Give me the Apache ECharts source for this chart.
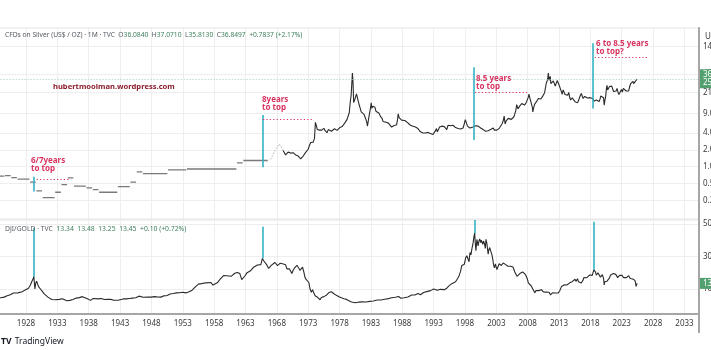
<!DOCTYPE html>
<html><head><meta charset="utf-8">
<script src="https://cdn.jsdelivr.net/npm/echarts@6/dist/echarts.min.js"></script>
<style>html,body{margin:0;padding:0;background:#fff}#c{width:711px;height:350px}</style>
</head><body><div id="c"></div>
<script>
// ---------- data ----------
const silverAxisTicks = [0.25, 0.5, 1, 2, 4, 9, 21, 45, 140];
const djiAxisTicks = [10, 30, 50];

const silverYearlyYears = [1923,1924,1925,1926,1927,1928,1929,1930,1931,1932,1933,1934,1935,1936,1937,1938,1939,1940,1941,1942,1943,1944,1945,1946,1947,1948,1949,1950,1951,1952,1953,1954,1955,1956,1957,1958,1959,1960,1961,1962,1963,1964,1965,1966];
const silverYearlyValues = [0.66,0.68,0.69,0.64,0.60,0.60,0.53,0.37,0.28,0.28,0.35,0.48,0.63,0.45,0.45,0.42,0.39,0.35,0.35,0.35,0.44,0.44,0.53,0.81,0.75,0.75,0.75,0.75,0.88,0.88,0.88,0.91,0.91,0.91,0.91,0.91,0.91,0.91,0.91,1.17,1.29,1.29,1.29,1.29];

const silverGapDates = [1967.0, 1967.5, 1968.0, 1968.4, 1968.8, 1969.0];
const silverGapValues = [1.35, 1.75, 2.2, 2.55, 2.15, 1.95];

const silverDates = [1969.0,1969.2,1969.4,1969.6,1969.8,1970.0,1970.2,1970.4,1970.6,1970.8,1971.0,1971.2,1971.4,1971.6,1971.8,1972.0,1972.2,1972.4,1972.6,1972.8,1973.0,1973.2,1973.4,1973.6,1973.8,1974.0,1974.15,1974.3,1974.45,1974.6,1974.8,1975.0,1975.15,1975.3,1975.5,1975.7,1975.85,1976.0,1976.2,1976.35,1976.5,1976.7,1976.85,1977.0,1977.2,1977.4,1977.6,1977.8,1978.0,1978.2,1978.4,1978.6,1978.8,1979.0,1979.2,1979.4,1979.55,1979.7,1979.85,1979.95,1980.05,1980.15,1980.25,1980.4,1980.55,1980.7,1980.85,1981.0,1981.15,1981.3,1981.45,1981.6,1981.75,1981.9,1982.05,1982.2,1982.35,1982.45,1982.6,1982.75,1982.9,1983.05,1983.15,1983.3,1983.5,1983.65,1983.8,1983.95,1984.1,1984.3,1984.5,1984.65,1984.8,1984.95,1985.1,1985.25,1985.4,1985.6,1985.8,1985.95,1986.1,1986.3,1986.5,1986.65,1986.8,1986.95,1987.1,1987.25,1987.35,1987.5,1987.7,1987.9,1988.05,1988.2,1988.4,1988.6,1988.8,1988.95,1989.1,1989.3,1989.5,1989.7,1989.9,1990.1,1990.3,1990.5,1990.7,1990.9,1991.1,1991.3,1991.5,1991.7,1991.9,1992.1,1992.3,1992.5,1992.7,1992.9,1993.1,1993.3,1993.45,1993.6,1993.8,1993.95,1994.1,1994.3,1994.5,1994.7,1994.9,1995.1,1995.3,1995.5,1995.7,1995.9,1996.1,1996.3,1996.5,1996.7,1996.9,1997.1,1997.3,1997.5,1997.7,1997.9,1998.05,1998.2,1998.4,1998.6,1998.8,1998.95,1999.1,1999.3,1999.5,1999.7,1999.9,2000.1,2000.3,2000.5,2000.7,2000.9,2001.1,2001.3,2001.5,2001.7,2001.9,2002.1,2002.3,2002.5,2002.7,2002.9,2003.1,2003.3,2003.5,2003.7,2003.9,2004.1,2004.25,2004.4,2004.55,2004.7,2004.9,2005.05,2005.2,2005.4,2005.6,2005.8,2005.95,2006.1,2006.25,2006.35,2006.45,2006.6,2006.75,2006.9,2007.05,2007.2,2007.35,2007.5,2007.65,2007.8,2007.95,2008.1,2008.2,2008.35,2008.5,2008.6,2008.75,2008.82,2008.95,2009.1,2009.25,2009.4,2009.55,2009.7,2009.85,2009.95,2010.1,2010.25,2010.4,2010.55,2010.7,2010.85,2010.95,2011.1,2011.2,2011.3,2011.4,2011.5,2011.6,2011.7,2011.85,2011.95,2012.1,2012.25,2012.4,2012.55,2012.7,2012.85,2012.95,2013.1,2013.25,2013.4,2013.5,2013.65,2013.8,2013.95,2014.1,2014.25,2014.4,2014.55,2014.7,2014.85,2014.95,2015.1,2015.25,2015.4,2015.55,2015.7,2015.85,2015.95,2016.1,2016.25,2016.4,2016.55,2016.7,2016.85,2016.95,2017.1,2017.25,2017.4,2017.55,2017.7,2017.85,2017.95,2018.1,2018.25,2018.4,2018.55,2018.7,2018.85,2018.95,2019.1,2019.25,2019.4,2019.55,2019.65,2019.8,2019.95,2020.1,2020.2,2020.3,2020.45,2020.55,2020.65,2020.75,2020.9,2021.05,2021.15,2021.3,2021.4,2021.55,2021.7,2021.85,2021.95,2022.1,2022.25,2022.4,2022.55,2022.7,2022.85,2022.95,2023.1,2023.25,2023.4,2023.55,2023.7,2023.85,2023.95,2024.1,2024.25,2024.4,2024.5,2024.65,2024.8,2024.9,2024.98,2025.1,2025.2,2025.3,2025.38,2025.45];
const silverValues = [1.95,1.80,1.62,1.75,1.82,1.88,1.75,1.68,1.78,1.70,1.62,1.66,1.55,1.48,1.38,1.42,1.55,1.65,1.80,1.90,2.05,2.40,2.70,2.90,2.75,3.20,6.20,5.40,4.60,4.80,4.50,4.20,4.50,4.30,4.85,4.40,4.20,4.05,4.60,4.90,4.40,4.30,4.45,4.50,4.75,4.60,4.45,4.80,4.95,5.30,5.20,5.55,5.95,6.10,7.00,8.20,9.20,14.0,19.0,30.0,47.0,32.0,14.0,15.5,16.5,20.0,17.0,14.5,12.5,11.0,9.5,8.8,9.8,8.6,7.8,7.0,6.2,5.3,6.8,8.6,10.5,13.8,11.0,12.0,12.8,11.5,9.8,9.2,9.8,9.0,8.0,7.5,7.2,6.4,6.0,6.7,6.2,6.3,6.0,5.9,5.7,5.1,5.0,5.4,5.8,5.4,5.6,7.0,8.8,7.5,7.4,6.8,6.5,6.4,6.7,6.5,6.2,6.1,5.8,5.5,5.2,5.3,5.6,5.1,5.0,4.8,4.9,4.2,3.9,4.0,4.3,4.0,3.9,4.1,4.0,3.9,3.8,3.75,3.6,4.4,4.8,4.2,4.4,5.1,5.4,5.3,5.4,5.2,4.8,4.6,5.5,5.1,5.4,5.1,5.5,5.2,5.0,4.9,4.8,5.2,4.7,4.4,4.9,5.9,6.9,6.2,5.3,5.5,4.9,5.0,5.3,5.1,5.3,5.4,5.2,5.3,5.0,4.9,4.8,4.6,4.4,4.3,4.2,4.4,4.5,4.6,4.7,4.9,4.5,4.6,4.5,4.7,4.9,5.2,5.8,6.6,8.0,5.8,6.5,7.0,7.3,6.9,7.2,7.0,7.3,7.8,8.8,10.0,12.8,13.6,10.8,11.5,12.2,13.0,13.4,13.8,13.1,12.6,13.2,14.2,14.8,17.5,19.8,16.8,17.8,15.5,11.5,9.5,11.2,13.0,12.5,14.5,13.8,16.5,17.8,16.9,16.2,17.5,18.2,17.8,21.0,26.0,30.5,34.0,38.0,47.0,35.0,34.5,41.0,30.5,33.0,28.2,34.0,32.5,27.5,28.0,34.5,32.5,30.0,28.5,24.0,21.5,19.5,23.5,21.5,19.5,21.0,19.7,19.0,21.2,17.2,15.5,15.7,17.0,15.8,16.3,14.5,14.8,14.2,13.8,15.0,17.0,17.5,20.3,19.2,16.5,16.0,18.0,17.0,16.6,16.9,17.2,16.6,17.1,16.6,16.3,16.5,14.8,14.5,14.3,15.5,15.3,14.9,14.6,16.3,18.3,17.5,17.9,17.0,12.5,15.0,18.5,24.5,28.5,23.5,24.5,27.0,26.5,25.0,27.5,25.5,22.0,23.5,23.0,22.5,25.0,21.5,19.5,18.2,21.0,24.0,21.5,25.0,24.0,24.5,22.5,23.0,24.0,22.5,26.5,30.0,29.0,28.5,33.5,30.5,29.0,31.5,33.8,32.2,33.0,36.85];

const djiGoldDates = [1923.5,1924.0,1924.5,1925.0,1925.5,1926.0,1926.3,1926.7,1927.0,1927.4,1927.8,1928.0,1928.4,1928.7,1928.95,1929.15,1929.25,1929.35,1929.42,1929.55,1929.7,1929.85,1930.0,1930.3,1930.6,1930.9,1931.2,1931.5,1931.8,1932.1,1932.4,1932.7,1933.0,1933.3,1933.5,1933.8,1934.0,1934.5,1935.0,1935.5,1936.0,1936.5,1937.0,1937.3,1937.7,1938.0,1938.3,1938.7,1939.0,1939.5,1940.0,1940.5,1941.0,1941.5,1942.0,1942.3,1942.7,1943.0,1943.5,1944.0,1944.5,1945.0,1945.5,1946.0,1946.3,1946.7,1947.0,1947.5,1948.0,1948.5,1949.0,1949.5,1950.0,1950.5,1951.0,1951.5,1952.0,1952.5,1953.0,1953.5,1954.0,1954.5,1955.0,1955.5,1955.8,1956.0,1956.3,1956.7,1957.0,1957.5,1957.8,1958.0,1958.5,1959.0,1959.5,1959.8,1960.0,1960.3,1960.7,1961.0,1961.3,1961.7,1961.9,1962.1,1962.4,1962.6,1962.9,1963.2,1963.5,1963.8,1964.0,1964.3,1964.6,1964.9,1965.2,1965.45,1965.7,1965.9,1966.1,1966.4,1966.7,1966.9,1967.1,1967.4,1967.7,1967.9,1968.1,1968.3,1968.5,1968.7,1968.9,1969.1,1969.4,1969.6,1969.8,1970.0,1970.2,1970.4,1970.6,1970.8,1971.0,1971.2,1971.5,1971.7,1971.9,1972.1,1972.3,1972.5,1972.7,1972.9,1973.1,1973.3,1973.5,1973.7,1973.9,1974.1,1974.3,1974.5,1974.7,1974.9,1975.1,1975.3,1975.5,1975.7,1975.9,1976.1,1976.3,1976.5,1976.7,1976.9,1977.1,1977.3,1977.5,1977.7,1977.9,1978.1,1978.3,1978.5,1978.7,1978.9,1979.1,1979.3,1979.5,1979.7,1979.9,1980.05,1980.2,1980.5,1980.8,1981.0,1981.3,1981.6,1981.9,1982.2,1982.5,1982.8,1983.1,1983.4,1983.7,1984.0,1984.3,1984.6,1984.9,1985.2,1985.5,1985.8,1986.0,1986.3,1986.6,1986.9,1987.1,1987.4,1987.6,1987.8,1988.0,1988.3,1988.6,1988.9,1989.2,1989.5,1989.8,1990.0,1990.3,1990.5,1990.7,1990.9,1991.1,1991.4,1991.7,1991.9,1992.2,1992.5,1992.8,1993.0,1993.3,1993.6,1993.9,1994.1,1994.4,1994.7,1994.9,1995.1,1995.4,1995.7,1995.9,1996.2,1996.5,1996.8,1996.95,1997.1,1997.3,1997.5,1997.7,1997.9,1998.1,1998.3,1998.5,1998.65,1998.8,1998.95,1999.1,1999.3,1999.45,1999.55,1999.65,1999.75,1999.9,2000.0,2000.1,2000.2,2000.35,2000.5,2000.6,2000.75,2000.85,2000.95,2001.1,2001.25,2001.35,2001.5,2001.6,2001.7,2001.8,2001.95,2002.1,2002.3,2002.45,2002.55,2002.7,2002.85,2002.95,2003.1,2003.3,2003.45,2003.6,2003.8,2003.95,2004.1,2004.3,2004.5,2004.7,2004.85,2004.95,2005.15,2005.3,2005.5,2005.65,2005.8,2005.95,2006.1,2006.3,2006.45,2006.6,2006.75,2006.9,2007.05,2007.2,2007.35,2007.5,2007.65,2007.8,2007.95,2008.1,2008.25,2008.4,2008.55,2008.7,2008.8,2008.9,2009.0,2009.15,2009.3,2009.45,2009.6,2009.75,2009.9,2010.05,2010.2,2010.35,2010.5,2010.65,2010.8,2010.95,2011.1,2011.25,2011.4,2011.55,2011.65,2011.8,2011.95,2012.1,2012.25,2012.4,2012.55,2012.7,2012.85,2012.95,2013.1,2013.25,2013.4,2013.55,2013.7,2013.85,2013.95,2014.1,2014.25,2014.4,2014.55,2014.7,2014.85,2014.95,2015.1,2015.25,2015.4,2015.55,2015.7,2015.85,2015.95,2016.1,2016.25,2016.4,2016.55,2016.7,2016.85,2016.95,2017.1,2017.25,2017.4,2017.55,2017.7,2017.85,2017.95,2018.05,2018.15,2018.3,2018.45,2018.55,2018.7,2018.8,2018.95,2019.05,2019.2,2019.35,2019.5,2019.6,2019.75,2019.9,2020.0,2020.1,2020.2,2020.3,2020.45,2020.55,2020.65,2020.8,2020.9,2021.05,2021.2,2021.35,2021.5,2021.65,2021.8,2021.95,2022.05,2022.2,2022.35,2022.5,2022.65,2022.75,2022.9,2023.0,2023.15,2023.3,2023.45,2023.6,2023.75,2023.85,2023.95,2024.1,2024.2,2024.35,2024.5,2024.6,2024.75,2024.9,2025.0,2025.1,2025.2,2025.28,2025.35,2025.45];
const djiGoldValues = [4.6,4.6,5.0,5.8,6.5,7.5,6.8,7.6,7.7,8.3,9.3,9.8,10.5,12.5,14.8,16.5,17.8,13.0,10.0,13.5,14.8,13.0,11.5,10.0,8.5,7.0,6.5,5.0,4.3,3.5,2.5,3.4,3.0,3.6,4.5,4.0,2.9,2.8,3.0,3.6,4.4,4.7,5.3,5.2,4.2,3.5,3.0,4.2,4.1,3.9,4.2,3.5,3.6,3.6,3.1,2.8,3.1,3.5,3.9,3.9,4.2,4.4,4.6,5.6,5.9,4.9,5.0,5.1,5.0,5.3,5.1,5.0,5.8,6.0,6.9,7.2,7.6,7.7,8.0,7.6,8.3,9.3,11.3,13.0,13.4,13.3,14.2,13.8,13.4,14.0,12.4,12.8,13.8,16.2,18.3,19.0,18.2,17.6,17.8,18.6,19.7,20.2,20.4,19.5,15.8,16.5,18.0,19.8,20.5,21.2,22.3,23.4,24.3,24.8,25.6,25.0,28.8,27.4,27.0,24.8,22.6,22.9,24.5,25.6,26.3,25.1,24.4,25.6,25.8,26.4,25.5,24.3,24.9,22.4,23.3,22.5,22.0,19.5,21.5,22.8,24.0,24.6,22.8,21.5,21.0,23.5,20.5,17.0,15.7,16.5,14.0,10.0,8.0,9.6,7.5,5.8,5.0,4.9,4.2,3.4,4.8,5.2,5.3,6.0,6.2,7.4,7.8,8.9,8.3,7.4,7.1,6.5,6.1,5.6,5.3,4.6,4.6,4.3,4.0,4.0,3.6,3.2,2.8,2.2,2.0,1.3,1.6,1.5,1.6,1.9,2.0,2.1,2.2,2.0,2.1,2.4,2.4,2.6,2.9,3.2,3.1,3.2,3.4,3.7,4.1,4.1,4.3,4.6,4.5,4.9,5.1,5.4,5.6,4.3,4.3,4.6,4.9,5.1,5.4,6.3,6.6,6.3,6.7,7.2,6.2,6.5,7.6,7.8,8.1,8.4,9.0,9.0,9.6,10.0,9.3,9.2,9.1,9.8,9.5,9.6,9.9,10.5,11.8,12.6,13.3,14.2,14.5,15.6,17.2,18.5,21.0,24.5,23.5,25.3,29.0,30.5,31.2,26.8,32.5,31.0,34.5,38.5,42.5,44.5,38.0,33.5,40.5,41.2,36.5,39.0,40.8,38.6,40.0,39.2,37.5,39.5,38.0,35.0,40.6,38.0,34.5,31.5,34.0,35.5,33.5,31.0,28.0,25.0,23.0,25.5,24.0,22.0,24.0,25.5,25.0,24.5,25.0,26.0,25.5,25.0,24.5,24.0,24.2,24.8,24.0,24.0,23.5,22.0,20.5,19.5,17.8,17.5,18.5,19.5,19.5,19.8,20.5,20.0,19.7,18.8,17.5,16.2,13.8,13.5,13.5,12.0,11.5,10.2,10.0,9.0,7.6,9.0,8.8,9.3,9.0,9.4,9.4,9.6,8.6,8.2,8.6,8.2,8.1,8.3,8.2,8.0,6.8,6.4,7.0,7.7,7.6,7.8,7.5,7.7,7.6,7.5,7.9,8.8,10.0,11.6,11.0,11.4,12.6,13.3,12.8,12.5,12.8,13.0,13.8,14.8,15.0,14.5,15.0,15.5,16.0,14.7,15.8,16.3,14.5,14.7,14.5,13.7,14.5,15.6,17.0,17.0,16.6,16.9,17.3,17.5,18.6,19.0,19.5,18.2,18.4,19.5,21.8,21.0,20.5,18.5,19.3,20.0,20.0,19.0,17.3,17.8,18.8,18.0,16.5,12.5,14.5,15.0,14.2,14.8,14.5,16.0,16.8,18.5,19.0,19.5,19.6,20.5,20.0,19.0,18.0,17.0,17.5,18.4,17.5,19.2,18.5,17.5,17.0,17.5,18.0,17.0,17.3,18.1,18.2,17.5,16.5,17.0,16.8,16.2,16.8,16.0,15.3,13.7,11.6,12.5,13.45];

const silverLast = 36.8497;
const djiGoldLast = 13.45;

// annotation lines (cyan) and "to top" dotted lines
const silverMarkYears = [1929.28, 1965.68, 1999.4, 2018.45];
const silverMarkLow = [0.36, 0.98, 3.0, 11.0];
const silverMarkHigh = [0.66, 8.4, 60, 160];
const djiMarkYears = [1929.28, 1965.68, 1999.55, 2018.58];
const djiMarkLow = [17.6, 28.9, 44.3, 21.7];
const djiMarkHigh = [47.5, 48.3, 52.4, 51.4];
const toTopStart = [1929.7, 1965.8, 1999.6, 2018.7];
const toTopEnd = [1935.0, 1973.9, 2007.9, 2027.1];
const toTopLevel = [0.60, 7.1, 21.6, 91];

// ---------- build ----------
const L = v => Math.log10(v);
const silverEarly = [];
for (let i = 0; i < silverYearlyYears.length;) {
  let j = i;
  while (j + 1 < silverYearlyYears.length && silverYearlyValues[j + 1] === silverYearlyValues[i]) j++;
  const v = L(silverYearlyValues[i]);
  silverEarly.push([silverYearlyYears[i] - 0.35, v], [silverYearlyYears[j] + 0.55, v], [silverYearlyYears[j] + 0.6, '-']);
  i = j + 1;
}
const silverGap = silverGapDates.map((d, i) => [d, L(silverGapValues[i])]);
const silver = silverDates.map((d, i) => [d, L(silverValues[i])]);
const djiGold = djiGoldDates.map((d, i) => [d, djiGoldValues[i]]);

const CYAN = '#35b2c4', RED = '#d8325f', GRID = '#eeeeef', FONT = 'Noto Sans';
const cyanStyle = { color: CYAN, width: 1.6, type: 'solid' };
const redStyle = { color: RED, width: 1.2, type: [1.2, 2.2] };

const silverMarks = [];
silverMarkYears.forEach((y, i) => silverMarks.push([{ coord: [y, L(silverMarkLow[i])], lineStyle: cyanStyle }, { coord: [y, L(silverMarkHigh[i])] }]));
toTopStart.forEach((s, i) => silverMarks.push([{ coord: [s, L(toTopLevel[i])], lineStyle: redStyle }, { coord: [toTopEnd[i], L(toTopLevel[i])] }]));
const djiMarks = djiMarkYears.map((y, i) => [{ coord: [y, djiMarkLow[i]], lineStyle: cyanStyle }, { coord: [y, djiMarkHigh[i]] }]);

const priceLabel = (txt) => ({ show: true, position: 'end', distance: 1, formatter: txt, color: '#fff', backgroundColor: '#52a06f', padding: [2, 3, 1, 3], fontSize: 8, lineHeight: 8, fontFamily: FONT });

const xFmt = v => (Math.abs(v - Math.round(v)) < 1e-6 && v >= 1925) ? String(Math.round(v)) : '';
const X0 = 1923, X1 = 2035.32;

const chart = echarts.init(document.getElementById('c'), null, { renderer: 'canvas' });
chart.setOption({
  animation: false,
  backgroundColor: '#ffffff',
  grid: [
    { left: -5.35, right: 12, top: 28, height: 191, show: true, borderColor: '#e4e4e6', borderWidth: 1, outerBoundsMode: 'none', containLabel: false },
    { left: -5.35, right: 12, top: 220, height: 94, show: true, borderColor: '#e4e4e6', borderWidth: 1, outerBoundsMode: 'none', containLabel: false }
  ],
  xAxis: [
    { gridIndex: 0, type: 'value', min: X0, max: X1, interval: 5, axisLabel: { show: false }, axisTick: { show: false }, axisLine: { show: false }, splitLine: { show: true, lineStyle: { color: GRID, width: 1 } } },
    { gridIndex: 1, type: 'value', min: X0, max: X1, interval: 5, axisLabel: { show: true, interval: 0, formatter: xFmt, color: '#3b3b3b', fontSize: 8, margin: 6, fontFamily: FONT, showMaxLabel: false, showMinLabel: false }, axisTick: { show: false }, axisLine: { show: true, onZero: false, lineStyle: { color: '#a6a6a6', width: 2 } }, splitLine: { show: true, lineStyle: { color: GRID, width: 1 } } }
  ],
  yAxis: [
    { gridIndex: 0, type: 'value', position: 'right', min: -0.934, max: 2.477,
      axisTick: { show: false, customValues: silverAxisTicks.map(L) },
      axisLabel: { show: true, customValues: silverAxisTicks.map(L), formatter: v => Math.pow(10, v).toFixed(2), color: '#3b3b3b', fontSize: 8, margin: 4, fontFamily: FONT },
      axisLine: { show: true, lineStyle: { color: '#a6a6a6', width: 2 } },
      splitLine: { show: true, lineStyle: { color: GRID, width: 1 } } },
    { gridIndex: 1, type: 'value', position: 'right', min: -5.38, max: 52.46,
      axisTick: { show: false, customValues: djiAxisTicks },
      axisLabel: { show: true, customValues: djiAxisTicks, formatter: v => v.toFixed(2), color: '#3b3b3b', fontSize: 8, margin: 4, fontFamily: FONT },
      axisLine: { show: true, lineStyle: { color: '#a6a6a6', width: 2 } },
      splitLine: { show: true, lineStyle: { color: GRID, width: 1 } } }
  ],
  series: [
    { name: 'Silver yearly', type: 'line', xAxisIndex: 0, yAxisIndex: 0, data: silverEarly, showSymbol: false, symbol: 'none', connectNulls: false, lineStyle: { color: '#7a7a7a', width: 1.3 }, silent: true },
    { name: 'Silver gap', type: 'line', xAxisIndex: 0, yAxisIndex: 0, data: silverGap, symbol: 'none', lineStyle: { color: '#b5b5b5', width: 1, type: [1.5, 1.5] }, silent: true },
    { name: 'Silver', type: 'line', xAxisIndex: 0, yAxisIndex: 0, data: silver, symbol: 'none', lineStyle: { color: '#2a2a2a', width: 1.1 }, silent: true,
      markLine: { silent: true, symbol: ['none', 'none'], animation: false, label: { show: false },
        data: [
          { yAxis: L(silverLast), lineStyle: { color: '#9ccfb1', width: 1, type: [1, 2] }, label: priceLabel('36.8497\n25d') },
          ...silverMarks
        ] } },
    { name: 'DJI/GOLD', type: 'line', xAxisIndex: 1, yAxisIndex: 1, data: djiGold, symbol: 'none', lineStyle: { color: '#2a2a2a', width: 1.1 }, silent: true,
      markLine: { silent: true, symbol: ['none', 'none'], animation: false, label: { show: false },
        data: [
          { yAxis: djiGoldLast, lineStyle: { color: 'rgba(0,0,0,0)', width: 1 }, label: priceLabel('13.45') },
          ...djiMarks
        ] } }
  ],
  graphic: [
    { type: 'text', z: 100, left: 5, top: 32, style: { text: '{g|CFDs on Silver (US$ / OZ) · 1M · TVC}  {g|O}{v|36.0840}  {g|H}{v|37.0710}  {g|L}{v|35.8130}  {g|C}{v|36.8497}  {v|+0.7837 (+2.17%)}', rich: { g: { fill: '#555a60', fontSize: 6.7, fontFamily: FONT }, v: { fill: '#3d7f5c', fontSize: 6.7, fontFamily: FONT } }, fontSize: 6.7, fontFamily: FONT } },
    { type: 'text', z: 100, left: 5, top: 226, style: { text: '{g|DJI/GOLD · TVC}  {v|13.34}  {v|13.48}  {v|13.25}  {v|13.45}  {v|+0.10 (+0.72%)}', rich: { g: { fill: '#555a60', fontSize: 6.8, fontFamily: FONT }, v: { fill: '#3d7f5c', fontSize: 6.8, fontFamily: FONT } }, fontSize: 6.8, fontFamily: FONT } },
    { type: 'text', z: 100, left: 705, top: 33, style: { text: 'USD', fill: '#3b3b3b', fontSize: 8, fontFamily: FONT } },
    { type: 'text', z: 100, left: 53, top: 83, style: { text: 'hubertmoolman.wordpress.com', fill: '#8a1c2e', fontSize: 7.6, fontWeight: 'bold', fontFamily: FONT } },
    { type: 'text', z: 100, left: 31, top: 157, style: { text: '6/7years\nto top', fill: RED, fontSize: 8, lineHeight: 8, fontWeight: 'bold', fontFamily: FONT } },
    { type: 'text', z: 100, left: 262, top: 96, style: { text: '8years\nto top', fill: RED, fontSize: 8, lineHeight: 8, fontWeight: 'bold', fontFamily: FONT } },
    { type: 'text', z: 100, left: 476, top: 75, style: { text: '8.5 years\nto top', fill: RED, fontSize: 8, lineHeight: 8, fontWeight: 'bold', fontFamily: FONT } },
    { type: 'text', z: 100, left: 596, top: 40, style: { text: '6 to 8.5 years\nto top?', fill: RED, fontSize: 8, lineHeight: 8, fontWeight: 'bold', fontFamily: FONT } },
    { type: 'line', z: 100, shape: { x1: 699, y1: 314, x2: 699, y2: 333 }, style: { stroke: '#a6a6a6', lineWidth: 2 } },
    { type: 'text', z: 100, left: 1, top: 336, style: { text: '{l|TV} {t|TradingView}', rich: { l: { fill: '#131722', fontSize: 8.5, fontWeight: 'bold', fontFamily: FONT }, t: { fill: '#131722', fontSize: 8.5, fontFamily: FONT } } } }
  ]
});
</script></body></html>
